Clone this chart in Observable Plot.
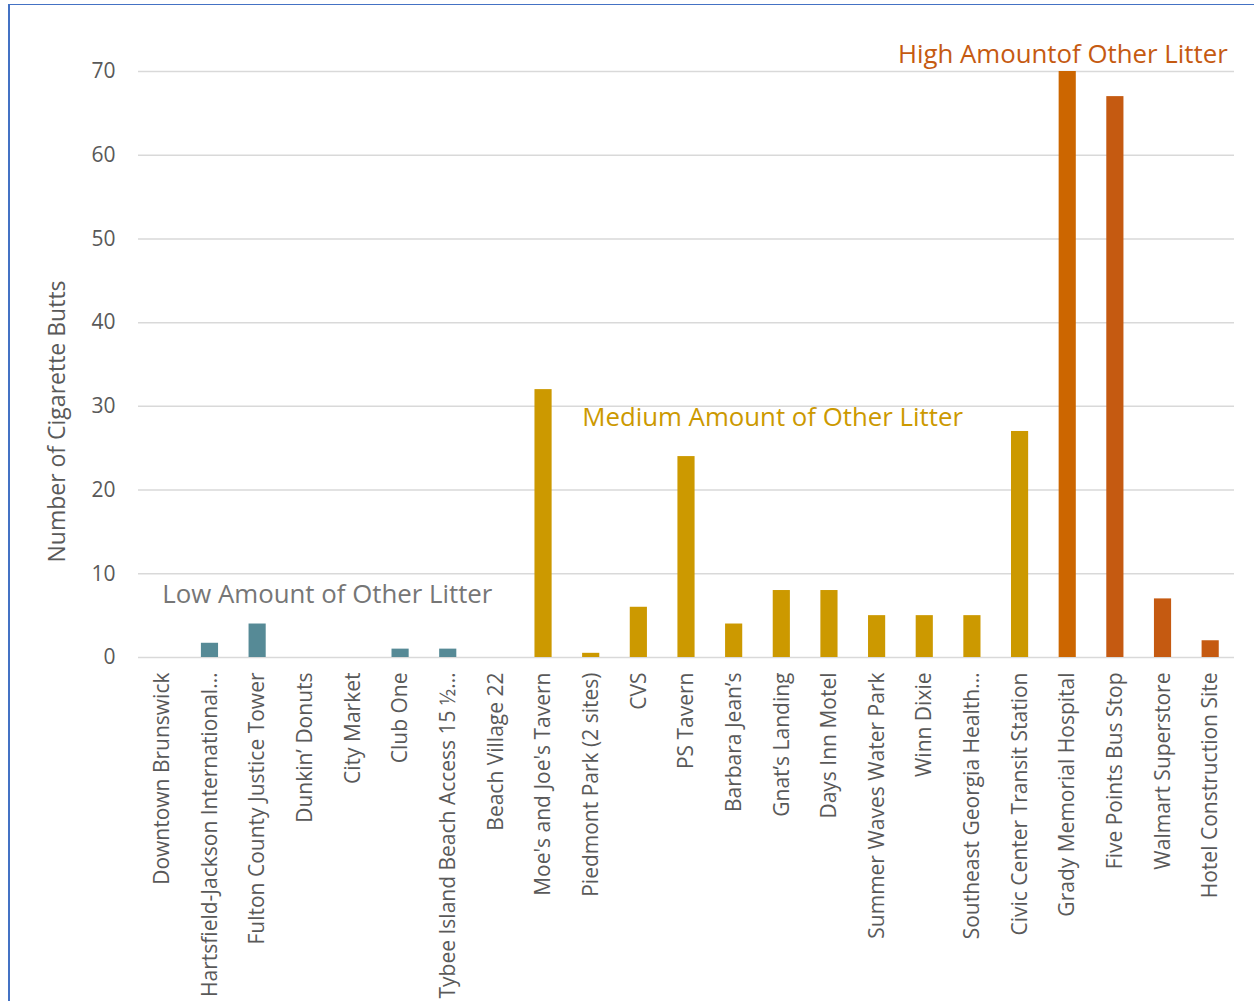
<!DOCTYPE html>
<html>
<head>
<meta charset="utf-8">
<script src="https://cdn.jsdelivr.net/npm/d3@7"></script>
<script src="https://cdn.jsdelivr.net/npm/@observablehq/plot@0.6"></script>
<style>
  html, body { margin: 0; padding: 0; background: #fff; }
  #wrap { position: relative; width: 1254px; height: 1001px; overflow: hidden; }
  #border { position: absolute; left: 8px; top: 4px; width: 1300px; height: 1100px;
            border-left: 2px solid #4472C4; border-top: 1.5px solid #4472C4; pointer-events: none; }
  svg { display: block; }
</style>
</head>
<body>
<div id="wrap"><div id="border"></div></div>
<script>
const categories = [
  "Downtown Brunswick", "Hartsfield-Jackson International…", "Fulton County Justice Tower",
  "Dunkin’ Donuts", "City Market", "Club One", "Tybee Island Beach Access 15 ½…",
  "Beach Village 22", "Moe's and Joe's Tavern", "Piedmont Park (2 sites)", "CVS",
  "PS Tavern", "Barbara Jean’s", "Gnat’s Landing", "Days Inn Motel",
  "Summer Waves Water Park", "Winn Dixie", "Southeast Georgia Health…",
  "Civic Center Transit Station", "Grady Memorial Hospital", "Five Points Bus Stop",
  "Walmart Superstore", "Hotel Construction Site"
];
const butts = [0, 1.7, 4, 0, 0, 1, 1, 0, 32, 0.5, 6, 24, 4, 8, 8, 5, 5, 5, 27, 70, 67, 7, 2];
const litterLevel = ["Low","Low","Low","Low","Low","Low","Low","Low",
  "Medium","Medium","Medium","Medium","Medium","Medium","Medium","Medium","Medium","Medium","Medium",
  "High","High","High","High"];
const barColors = ["#568A96","#568A96","#568A96","#568A96","#568A96","#568A96","#568A96","#568A96",
  "#CC9900","#CC9900","#CC9900","#CC9900","#CC9900","#CC9900","#CC9900","#CC9900","#CC9900","#CC9900","#CC9900",
  "#CC6600","#C55A11","#C55A11","#C55A11"];
const yTicks = [0, 10, 20, 30, 40, 50, 60, 70];
const annotationText = ["Low Amount of Other Litter", "Medium Amount of Other Litter", "High Amountof Other Litter"];
const annotationAt = ["Downtown Brunswick", "Piedmont Park (2 sites)", "Hotel Construction Site"];
const annotationY = [7.5, 28.7, 72];
const annotationColor = ["#767676", "#CC9900", "#C55A11"];
const annotationAnchor = ["start", "start", "end"];
const annotationDx = [0, -9, 17];

const data = categories.map((c, i) => ({category: c, value: butts[i], level: litterLevel[i], color: barColors[i]}));
const notes = annotationText.map((t, i) => ({text: t, category: annotationAt[i], y: annotationY[i], color: annotationColor[i], anchor: annotationAnchor[i], dx: annotationDx[i]}));

const noteMarks = notes.map(n => Plot.text([n], {
  x: "category", y: "y", text: "text", fill: "color",
  textAnchor: n.anchor, fontSize: 25.8, dx: n.dx
}));

const chart = Plot.plot({
  width: 1254,
  height: 1001,
  marginLeft: 138,
  marginRight: 20,
  marginTop: 71,
  marginBottom: 344,
  style: {fontFamily: "'Open Sans', sans-serif", background: "transparent", overflow: "visible"},
  x: {domain: categories, paddingInner: 0.64, paddingOuter: 0.32, round: false, label: null},
  y: {domain: [0, 70], ticks: yTicks, label: null},
  marks: [
    Plot.gridY(yTicks, {stroke: "#D9D9D9", strokeOpacity: 1, strokeWidth: 1.5}),
    Plot.barY(data, {x: "category", y: "value", fill: "color"}),
    Plot.axisY(yTicks, {tickSize: 0, tickPadding: 23, fontSize: 21, fill: "#595959", label: null}),
    Plot.axisX({tickSize: 0, tickPadding: 15, tickRotate: -90, fontSize: 21, fill: "#595959", label: null}),
    ...noteMarks,
    Plot.text(["Number of Cigarette Butts"], {frameAnchor: "left", textAnchor: "middle", rotate: -90, dx: -81, dy: 57, fontSize: 23, fill: "#595959"})
  ]
});
document.getElementById("wrap").prepend(chart);
</script>
</body>
</html>
